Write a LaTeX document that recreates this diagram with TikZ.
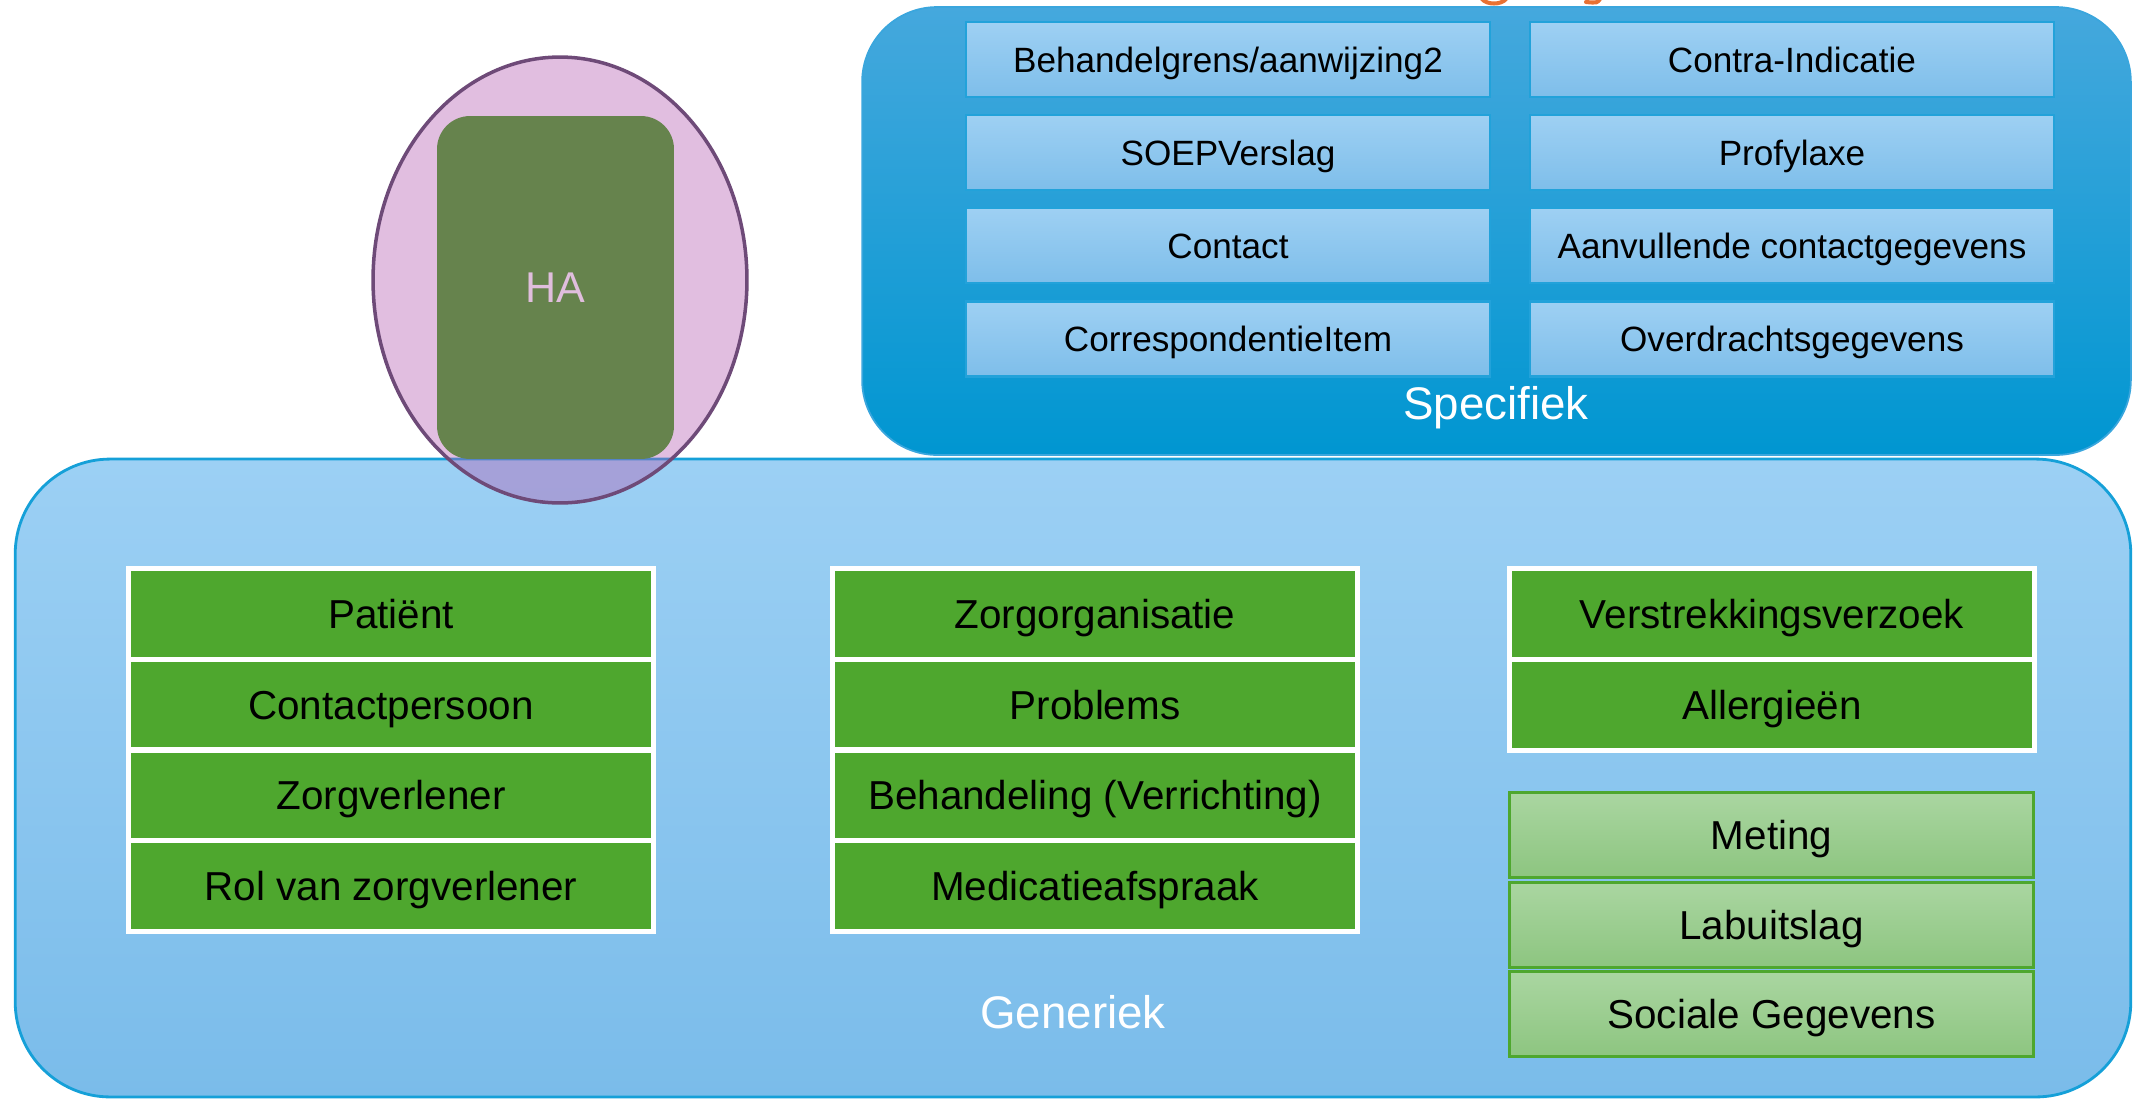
\documentclass[tikz,border=0pt]{standalone}
\usepackage{fontspec}
\setmainfont{Liberation Sans}
\usetikzlibrary{shapes.geometric}
\definecolor{specTop}{HTML}{45A8DD}
\definecolor{specMid}{HTML}{08A0DC}
\definecolor{specBot}{HTML}{0096D1}
\definecolor{specLine}{HTML}{3AA6DD}
\definecolor{genTop}{HTML}{9CD0F4}
\definecolor{genBot}{HTML}{7ABCEA}
\definecolor{genLine}{HTML}{15A0D8}
\definecolor{cellTop}{HTML}{9ED0F3}
\definecolor{cellBot}{HTML}{7EBEEA}
\definecolor{cellLine}{HTML}{22A2DA}
\definecolor{darkGreen}{HTML}{4EA72E}
\definecolor{lgTop}{HTML}{AAD6A1}
\definecolor{lgBot}{HTML}{8DC580}
\definecolor{haGreen}{HTML}{66834D}
\definecolor{haPink}{HTML}{E0BEDD}
\definecolor{ellFill}{RGB}{180,92,177}
\definecolor{ellLine}{HTML}{6E4A78}
\definecolor{titleOrange}{HTML}{E97132}
\tikzset{
  speccell/.style={rectangle, inner sep=0pt, outer sep=0pt,
    minimum width=10.48cm, minimum height=1.5cm,
    top color=cellTop, bottom color=cellBot, draw=cellLine, line width=1.6pt,
    font=\fontsize{20}{24}\selectfont, text height=14.3pt, text depth=0pt},
  greencell/.style={rectangle, inner sep=0pt, outer sep=0pt,
    minimum width=10.5cm, minimum height=1.815cm,
    fill=darkGreen, draw=white, line width=2.85pt,
    font=\fontsize{23}{27}\selectfont, text height=16.5pt, text depth=0pt},
  lightcell/.style={rectangle, inner sep=0pt, outer sep=0pt,
    minimum width=10.5cm, minimum height=1.7cm,
    top color=lgTop, bottom color=lgBot, draw=darkGreen, line width=1.7pt,
    font=\fontsize{23}{27}\selectfont, text height=16.5pt, text depth=0pt},
  grouplabel/.style={inner sep=0pt, text=white,
    font=\fontsize{26}{30}\selectfont, text height=18.6pt, text depth=0pt},
}
\begin{document}
\begin{tikzpicture}[x=0.02cm, y=-0.02cm]
\useasboundingbox (0,0) rectangle (2134,1100);

% title fragments (cut off at the top)
\draw[titleOrange, line width=2.3pt, line cap=round]
  (1482,-1) .. controls (1487,5) and (1501,5) .. (1506,-1);
\draw[titleOrange, line width=2.3pt, line cap=round]
  (1600,-1) .. controls (1597,3) .. (1586,2);

% Generiek container
\node (gen) [rectangle, rounded corners=1.9cm, inner sep=0pt,
  minimum width=42.32cm, minimum height=12.76cm,
  top color=genTop, bottom color=genBot, draw=genLine, line width=1.6pt]
  at (1073,778) {};

% Specifiek container
\node (spec) [rectangle, rounded corners=1.5cm, inner sep=0pt,
  minimum width=25.38cm, minimum height=8.96cm,
  top color=specTop, middle color=specMid, bottom color=specBot,
  draw=specLine, line width=1pt]
  at (1496.5,231) {};

% Specifiek cells
\node (s1) [speccell] at (1228,59.5) {Behandelgrens/aanwijzing2};
\node (s2) [speccell] at (1792,59.5) {Contra-Indicatie};
\node (s3) [speccell] at (1228,152.5) {SOEPVerslag};
\node (s4) [speccell] at (1792,152.5) {Profylaxe};
\node (s5) [speccell] at (1228,245.5) {Contact};
\node (s6) [speccell] at (1792,245.5) {Aanvullende contactgegevens};
\node (s7) [speccell] at (1228,339) {CorrespondentieItem};
\node (s8) [speccell] at (1792,339) {Overdrachtsgegevens};
\node (speclabel) [grouplabel] at (1496,403) {Specifiek};

% Generiek cells: left group
\node (a1) [greencell] at (391,613.9) {Patiënt};
\node (a2) [greencell] at (391,704.6) {Contactpersoon};
\node (a3) [greencell] at (391,795.4) {Zorgverlener};
\node (a4) [greencell] at (391,886.1) {Rol van zorgverlener};
% middle group
\node (b1) [greencell] at (1095,613.9) {Zorgorganisatie};
\node (b2) [greencell] at (1095,704.6) {Problems};
\node (b3) [greencell] at (1095,795.4) {Behandeling (Verrichting)};
\node (b4) [greencell] at (1095,886.1) {Medicatieafspraak};
% right group
\node (c1) [greencell] at (1772,614) {Verstrekkingsverzoek};
\node (c2) [greencell] at (1772,705) {Allergieën};
\node (d1) [lightcell] at (1771.5,834.5) {Meting};
\node (d2) [lightcell] at (1771.5,924.5) {Labuitslag};
\node (d3) [lightcell] at (1771.5,1014) {Sociale Gegevens};
\node (genlabel) [grouplabel] at (1073,1012) {Generiek};

% HA ellipse and block
\node (ell) [ellipse, inner sep=0pt, minimum width=7.48cm, minimum height=8.92cm,
  fill=ellFill, fill opacity=0.4, draw=ellLine, draw opacity=1, line width=2pt]
  at (560,280) {};
\node (ha) [rectangle, rounded corners=0.66cm, inner sep=0pt,
  minimum width=4.74cm, minimum height=6.86cm,
  fill=haGreen, text=haPink,
  font=\fontsize{24.5}{28}\selectfont, text height=17.5pt, text depth=0pt]
  at (555.5,287.5) {HA};
\end{tikzpicture}
\end{document}
